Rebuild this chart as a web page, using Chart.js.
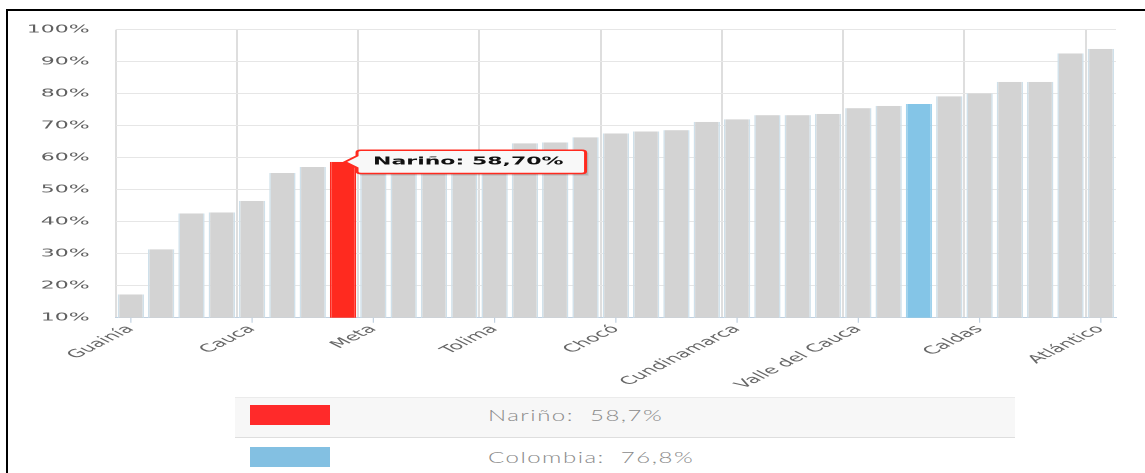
<!DOCTYPE html>
<html>
<head>
<meta charset="utf-8">
<script src="https://cdn.jsdelivr.net/npm/chart.js@4.4.1/dist/chart.umd.min.js"></script>
<style>
  html, body { margin: 0; padding: 0; background: #fff; width: 1145px; height: 473px; overflow: hidden; position: relative; }
  #frameTop { position: absolute; left: 6px; top: 9px; width: 1139px; height: 2px; background: #000; }
  #frameLeft { position: absolute; left: 6px; top: 9px; width: 2px; height: 464px; background: #000; }
  #stretch { position: absolute; left: 0; top: 0; width: 572px; height: 400px; transform: scaleX(2); transform-origin: 0 0; overflow: hidden; }
  .row { position: absolute; left: 235px; width: 780px; box-sizing: border-box; }
  #row1 { top: 397px; height: 41px; background: #f7f7f7; border-top: 1px solid #ebebeb; border-bottom: 1px solid #dedede; }
  #row2 { top: 438px; height: 35px; background: #fff; }
  .sw { position: absolute; left: 15px; width: 80px; height: 20px; }
  .txt { position: absolute; left: 253px; font-family: Lato, sans-serif; font-weight: 300; font-size: 16px; letter-spacing: 1px; color: #8a8a8a; white-space: pre; line-height: 20px; transform: scaleX(1.5); transform-origin: 0 50%; }
</style>
</head>
<body>
<div id="frameTop"></div>
<div id="frameLeft"></div>
<div id="stretch"><canvas id="c" width="572" height="400"></canvas></div>
<div class="row" id="row1"><div class="sw" id="sw1" style="top:7px"></div><div class="txt" id="t1" style="top:7px"></div></div>
<div class="row" id="row2"><div class="sw" id="sw2" style="top:9px"></div><div class="txt" id="t2" style="top:9px"></div></div>
<script>
// ---- data ----
const categories = ["Guainía","Vaupés","Vichada","La Guajira","Cauca","Amazonas","Guaviare","Nariño",
  "Meta","Putumayo","Caquetá","Córdoba","Tolima","Arauca","Sucre","Huila","Chocó","Cesar","Magdalena",
  "Boyacá","Cundinamarca","Bolívar","Norte de Santander","Casanare","Valle del Cauca","Antioquia",
  "Colombia","Santander","Caldas","Risaralda","Quindío","Bogotá D.C.","Atlántico"];
const values = [17.3, 31.4, 42.6, 42.9, 46.5, 55.2, 57.1, 58.7, 59.2, 59.9, 60.6, 61.3, 62.1, 64.5,
  64.8, 66.4, 67.6, 68.2, 68.6, 71.2, 72.0, 73.3, 73.3, 73.7, 75.5, 76.2, 76.8, 79.2, 80.1, 83.7,
  83.7, 92.6, 94.0];
const highlightIndex = 7;   // Nariño
const nationalIndex = 26;   // Colombia
const yTicks = [10, 20, 30, 40, 50, 60, 70, 80, 90, 100];
const labelEvery = 4;
const legendItems = [
  { name: "Nariño", value: "58,7%" },
  { name: "Colombia", value: "76,8%" }
];

// ---- styles ----
const GRAY = '#d3d3d3', RED = '#ff2a1f', BLUE = '#84c5e7';
const bg = values.map((v, i) => i === highlightIndex ? RED : (i === nationalIndex ? BLUE : GRAY));
const bc = values.map((v, i) => i === highlightIndex ? RED : (i === nationalIndex ? '#9fd2ec' : '#cfe0ea'));

document.getElementById('sw1').style.background = '#ff2a2a';
document.getElementById('sw2').style.background = '#83c0e2';
document.getElementById('t1').textContent = legendItems[0].name + ':  ' + legendItems[0].value;
document.getElementById('t2').textContent = legendItems[1].name + ':  ' + legendItems[1].value;

const tickMarks = {
  id: 'tickMarks',
  afterDraw(chart) {
    const xs = chart.scales.x, ctx = chart.ctx, b = chart.chartArea.bottom;
    ctx.save();
    ctx.strokeStyle = '#c0d0e0';
    ctx.lineWidth = 0.6;
    for (let i = 0; i < categories.length; i += labelEvery) {
      const x = xs.getPixelForValue(i);
      ctx.beginPath(); ctx.moveTo(x, b); ctx.lineTo(x, b + 5); ctx.stroke();
    }
    ctx.restore();
  },
  beforeTooltipDraw(chart, args) {
    const t = args.tooltip;
    if (!t || !t.opacity) return;
    const ctx = chart.ctx;
    ctx.save();
    ctx.fillStyle = 'rgba(0,0,0,0.08)';
    ctx.fillRect(t.x + 1.5, t.y + 2.5, t.width, t.height);
    ctx.fillStyle = 'rgba(0,0,0,0.10)';
    ctx.fillRect(t.x + 1, t.y + 1.5, t.width, t.height);
    ctx.restore();
  }
};

const chart = new Chart(document.getElementById('c'), {
  type: 'bar',
  data: {
    labels: categories,
    datasets: [{
      data: values,
      backgroundColor: bg,
      borderColor: bc,
      borderWidth: { left: 0.8, right: 0.8, top: 0, bottom: 0 },
      borderSkipped: false,
      barPercentage: 0.87,
      categoryPercentage: 1.0
    }]
  },
  options: {
    responsive: false,
    devicePixelRatio: 2,
    animation: false,
    events: [],
    layout: { padding: { left: 0, right: 14, top: 29.7, bottom: 0 } },
    plugins: {
      legend: { display: false },
      tooltip: {
        enabled: true,
        animation: false,
        xAlign: 'left',
        yAlign: 'center',
        caretSize: 6,
        caretPadding: 1,
        cornerRadius: 2,
        backgroundColor: 'rgba(248,248,248,1)',
        borderColor: RED,
        borderWidth: 1.5,
        displayColors: false,
        padding: { top: 5, bottom: 5, left: 8, right: 11 },
        bodyColor: '#111',
        bodyFont: { family: 'DejaVu Sans', size: 11, weight: 'bold' },
        callbacks: {
          title: () => '',
          label: (c) => c.label + ': ' + c.parsed.y.toFixed(2).replace('.', ',') + '%'
        }
      }
    },
    scales: {
      x: {
        grid: {
          offset: true,
          drawTicks: false,
          lineWidth: 1,
          color: (c) => (c.index % labelEvery === 0 && c.index < categories.length) ? '#dedede' : 'rgba(0,0,0,0)'
        },
        border: { display: true, color: '#c0d0e0', width: 1 },
        ticks: {
          autoSkip: false,
          maxRotation: 45,
          minRotation: 45,
          padding: 5,
          color: '#666',
          font: { family: 'DejaVu Sans', size: 11 },
          callback: function (val, idx) { return idx % labelEvery === 0 ? categories[idx] : ''; }
        },
        afterFit(s) { s.height = 82.3; }
      },
      y: {
        min: yTicks[0],
        max: yTicks[yTicks.length - 1],
        afterBuildTicks(s) { s.ticks = yTicks.map(v => ({ value: v })); },
        grid: { color: '#e6e6e6', lineWidth: 1, drawTicks: false },
        border: { display: false },
        ticks: {
          padding: 13,
          color: '#606060',
          font: { family: 'DejaVu Sans', size: 11 },
          callback: (v) => v + '%'
        },
        afterFit(s) { s.width = 57.85; }
      }
    }
  },
  plugins: [tickMarks]
});

chart.tooltip.setActiveElements([{ datasetIndex: 0, index: highlightIndex }], { x: 0, y: 0 });
chart.update();
</script>
</body>
</html>
